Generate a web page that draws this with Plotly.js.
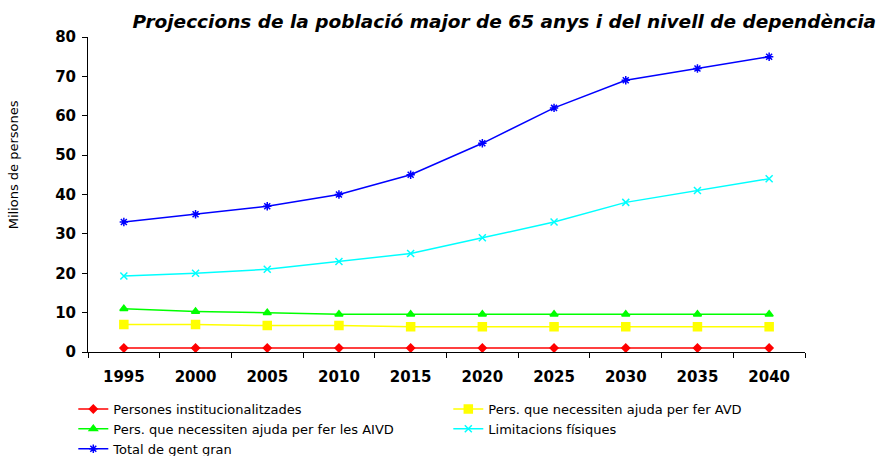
<!DOCTYPE html>
<html>
<head>
<meta charset="utf-8">
<script src="https://cdn.plot.ly/plotly-3.0.1.min.js"></script>
<style>html,body{margin:0;padding:0;background:#fff}</style>
</head>
<body>
<div id="chart" style="width:880px;height:456px"></div>
<script>
const years = ["1995","2000","2005","2010","2015","2020","2025","2030","2035","2040"];
const institucionalitzades = [1, 1, 1, 1, 1, 1, 1, 1, 1, 1];
const ajudaAVD = [7, 7, 6.7, 6.7, 6.4, 6.4, 6.4, 6.4, 6.4, 6.4];
const ajudaAIVD = [11, 10.3, 10, 9.6, 9.6, 9.6, 9.6, 9.6, 9.6, 9.6];
const limitacions = [19.3, 20, 21, 23, 25, 29, 33, 38, 41, 44];
const total = [33, 35, 37, 40, 45, 53, 62, 69, 72, 75];

const names = ["Persones institucionalitzades", "Pers. que necessiten ajuda per fer AVD",
  "Pers. que necessiten ajuda per fer les AIVD", "Limitacions físiques", "Total de gent gran"];

function tr(y, name, color, symbol, size) {
  return {x: years, y: y, name: name, type: "scatter", mode: "lines+markers",
    line: {color: color, width: 1.5}, marker: {color: color, symbol: symbol, size: size,
    line: {color: color, width: 1.5}}};
}
const data = [
  tr(institucionalitzades, names[0], "#FF0000", "diamond", 6),
  tr(ajudaAVD, names[1], "#FFFF00", "square", 8),
  tr(ajudaAIVD, names[2], "#00FF00", "triangle-up", 7),
  tr(limitacions, names[3], "#00FFFF", "x-thin", 7),
  tr(total, names[4], "#0000FF", "asterisk", 7)
];

const layout = {
  width: 880, height: 456,
  margin: {l: 88, r: 75, t: 37, b: 104, autoexpand: false},
  paper_bgcolor: "#fff", plot_bgcolor: "#fff",
  showlegend: true,
  title: {text: "<b><i>Projeccions de la població major de 65 anys i del nivell de dependència</i></b>",
    font: {family: "DejaVu Sans", size: 18.5, color: "#000"}, x: 0.573, xanchor: "center", y: 0.952, yanchor: "middle"},
  xaxis: {type: "category", range: [-0.5, 9.5], showline: true, linecolor: "#000", linewidth: 1,
    ticks: "outside", tickson: "boundaries", ticklen: 5, tickcolor: "#000", showgrid: false, zeroline: false,
    tickfont: {family: "DejaVu Sans", size: 15, color: "#000", weight: "bold"}, ticklabelstandoff: 11},
  yaxis: {range: [0, 80], dtick: 10, showline: true, linecolor: "#000", linewidth: 1,
    ticks: "outside", ticklen: 5, tickcolor: "#000", showgrid: false, zeroline: false,
    tickfont: {family: "DejaVu Sans", size: 15, color: "#000", weight: "bold"}, ticklabelstandoff: 3},
  annotations: [{text: "Milions de persones", xref: "paper", yref: "paper", x: -0.104, y: 0.594,
    xanchor: "center", yanchor: "middle", textangle: -90, showarrow: false,
    font: {family: "DejaVu Sans", size: 13, color: "#000"}}],
  legend: {orientation: "h", x: -0.0205, xanchor: "left",
    y: -0.1333, yanchor: "top", entrywidth: 330, entrywidthmode: "pixels", itemwidth: 30,
    font: {family: "DejaVu Sans", size: 13, color: "#000"}, tracegroupgap: 0}
};
Plotly.newPlot("chart", data, layout, {displayModeBar: false, staticPlot: true});
</script>
</body>
</html>
